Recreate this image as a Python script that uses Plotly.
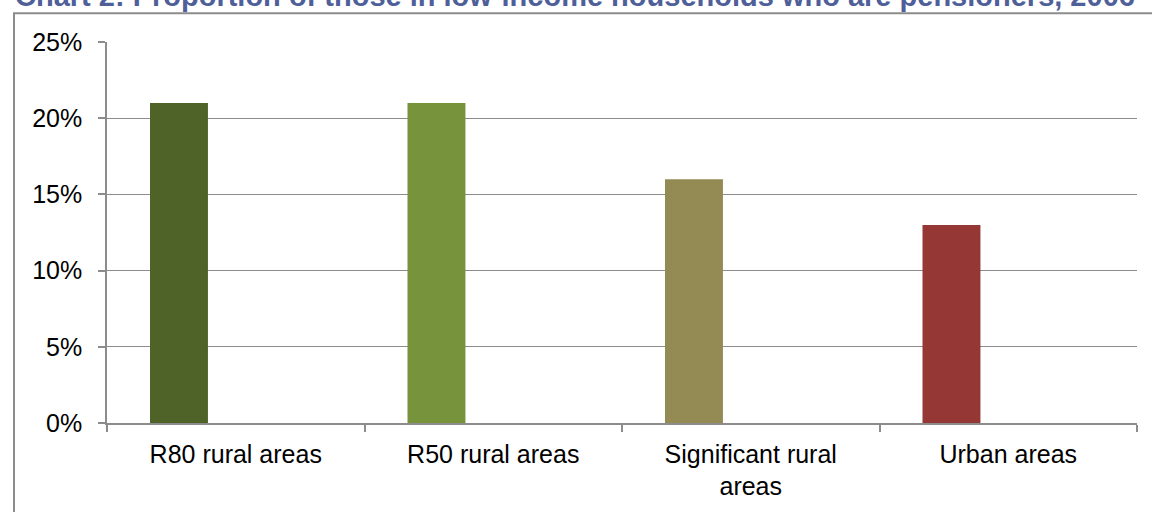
import plotly.graph_objects as go

# Area types and the share of low-income household members who are pensioners
categories = ["R80 rural areas", "R50 rural areas", "Significant rural<br>areas", "Urban areas"]
pensioner_share = [0.21, 0.21, 0.16, 0.13]
bar_colors = ["#4F6228", "#77933C", "#948A54", "#953735"]

title_text = "Chart 2: Proportion of those in low-income households who are pensioners, 2006"

W, H = 1152, 512
L, R, T, B = 107, 15, 42, 87
plot_w = W - L - R
plot_h = H - T - B


def px_x(p):
    return (p - L) / plot_w


def px_y(p):
    return (H - B - p) / plot_h


grid = "#8C8C8C"
font_family = "Liberation Sans, Arial, sans-serif"

fig = go.Figure(
    go.Bar(
        x=categories,
        y=pensioner_share,
        marker=dict(color=bar_colors, line=dict(width=0)),
        width=0.225,
        offset=-0.333,
        showlegend=False,
    )
)

fig.update_layout(
    width=W,
    height=H,
    margin=dict(l=L, r=R, t=T, b=B),
    paper_bgcolor="white",
    plot_bgcolor="white",
    font=dict(family=font_family, size=25, color="black"),
    xaxis=dict(
        range=[-0.5, 3.5],
        tickson="boundaries",
        ticks="outside",
        ticklen=7,
        tickcolor=grid,
        tickwidth=1.5,
        showline=True,
        linecolor=grid,
        linewidth=1.5,
        showgrid=False,
        ticklabelstandoff=8,
    ),
    yaxis=dict(
        range=[0, 0.25],
        dtick=0.05,
        tickformat=".0%",
        ticks="outside",
        ticklen=7,
        tickcolor=grid,
        tickwidth=1.5,
        showline=True,
        linecolor=grid,
        linewidth=1.5,
        showgrid=True,
        gridcolor=grid,
        gridwidth=1.3,
        zeroline=False,
        ticklabelstandoff=11,
    ),
    shapes=[
        dict(
            type="rect",
            xref="paper",
            yref="paper",
            x0=px_x(14),
            x1=px_x(1160),
            y0=px_y(520),
            y1=px_y(13),
            line=dict(color="#8C8C8C", width=2),
            fillcolor="rgba(0,0,0,0)",
            layer="below",
        )
    ],
    annotations=[
        dict(
            text="<b>" + title_text + "</b>",
            xref="paper",
            yref="paper",
            x=px_x(13),
            y=px_y(14),
            xanchor="left",
            yanchor="bottom",
            showarrow=False,
            font=dict(size=29, color="#4F5F9A", family=font_family),
        )
    ],
)

fig.write_html("out.html")
